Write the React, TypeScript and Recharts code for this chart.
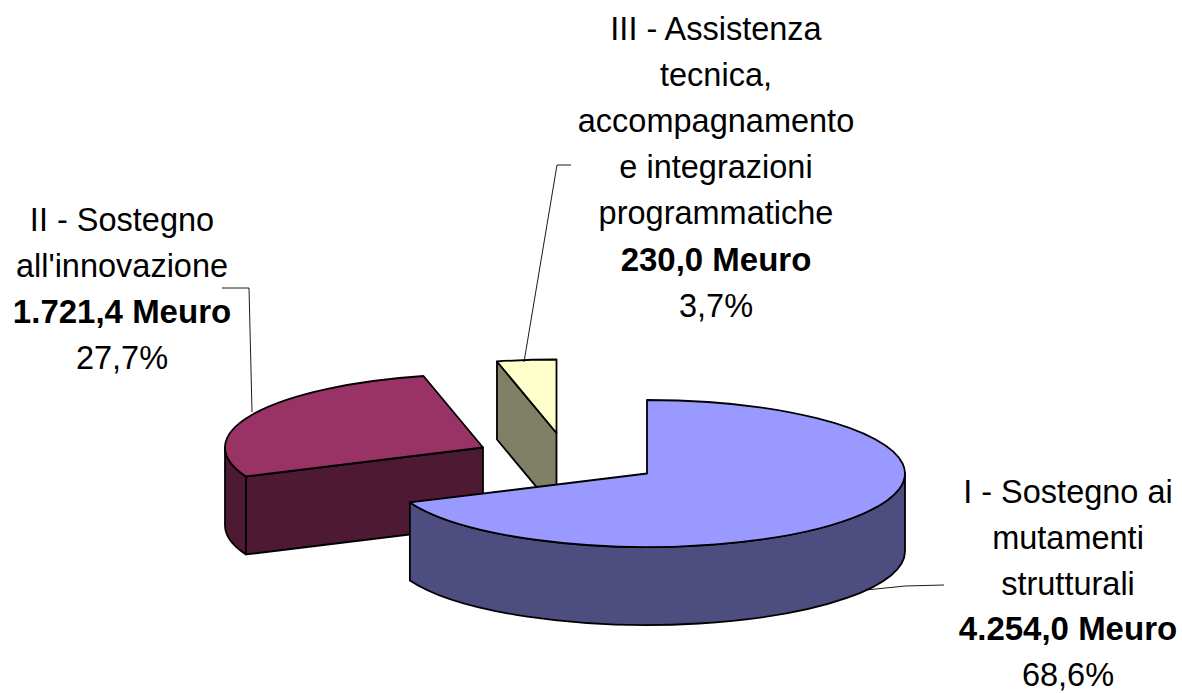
import { PieChart, Pie } from "recharts";

// listed back to front, so the large slice is painted last
const categories = ["III", "II", "I"];
const values = [230.0, 1721.4, 4254.0];
const amounts = ["230,0 Meuro", "1.721,4 Meuro", "4.254,0 Meuro"];
const percents = ["3,7%", "27,7%", "68,6%"];
const titles = [
  ["III - Assistenza", "tecnica,", "accompagnamento", "e integrazioni", "programmatiche"],
  ["II - Sostegno", "all'innovazione"],
  ["I - Sostegno ai", "mutamenti", "strutturali"],
];

const topColors = ["#FFFFCC", "#993366", "#9999FF"];
const sideColors = ["#808066", "#4D1933", "#4D4D80"];

// look of the fake 3D pie
const SQUASH = 73.5 / 258;
const DEPTH = 78;
const explodeX = [-90.5, -164, 0];
const explodeY = [-40.5, -26, 0];

// label placement
const labelX = [716, 122, 1068];
const labelY = [39.5, 231, 503];
const lineHeights = [46.2, 46, 45.75];
const leaderLines = [
  "571,165 557,165 524,362",
  "222,288 249,288 252,412",
  "944,585 905,586 866,590",
];

const rad = (deg: number) => (deg * Math.PI) / 180;

function Slice3D(props: any) {
  const { cx, cy, outerRadius: r, startAngle, endAngle, name } = props;
  const i = categories.indexOf(name);
  const x0 = cx + explodeX[i];
  const y0 = cy + explodeY[i];
  const ry = r * SQUASH;
  const a1 = Math.min(startAngle, endAngle);
  const a2 = Math.max(startAngle, endAngle);
  const px = (a: number) => x0 + r * Math.cos(rad(a));
  const py = (a: number, dy = 0) => y0 - ry * Math.sin(rad(a)) + dy;

  const top =
    `M${x0},${y0} L${px(a1)},${py(a1)} ` +
    `A${r},${ry} 0 ${a2 - a1 > 180 ? 1 : 0} 0 ${px(a2)},${py(a2)} Z`;

  const radialWall = (a: number) =>
    `M${x0},${y0} L${px(a)},${py(a)} L${px(a)},${py(a, DEPTH)} L${x0},${y0 + DEPTH} Z`;

  const from = Math.max(a1, 180);
  const to = Math.min(a2, 360);
  const outerWall =
    to > from
      ? `M${px(from)},${py(from)} A${r},${ry} 0 0 0 ${px(to)},${py(to)} ` +
        `L${px(to)},${py(to, DEPTH)} A${r},${ry} 0 0 1 ${px(from)},${py(from, DEPTH)} Z`
      : null;

  const side = { fill: sideColors[i], stroke: "#000", strokeWidth: 1.8, strokeLinejoin: "round" as const };
  return (
    <g>
      {Math.cos(rad(a1)) > 0.001 && <path d={radialWall(a1)} {...side} />}
      {Math.cos(rad(a2)) < -0.001 && <path d={radialWall(a2)} {...side} />}
      {outerWall && <path d={outerWall} {...side} />}
      <path d={top} fill={topColors[i]} stroke="#000" strokeWidth={1.8} strokeLinejoin="round" />
    </g>
  );
}

function SliceLabel(props: any) {
  const i = categories.indexOf(props.name);
  const lines = titles[i];
  const lh = lineHeights[i];
  return (
    <g>
      <polyline points={leaderLines[i]} fill="none" stroke="#000" strokeWidth={0.9} />
      <text
        textAnchor="middle"
        fontFamily="Liberation Sans"
        fontSize={32.5}
        fill="#000"
        stroke="none"
      >
        {lines.map((line, n) => (
          <tspan key={n} x={labelX[i]} y={labelY[i] + n * lh}>
            {line}
          </tspan>
        ))}
        <tspan x={labelX[i]} y={labelY[i] + lines.length * lh} fontWeight="bold" fontSize={33}>
          {amounts[i]}
        </tspan>
        <tspan x={labelX[i]} y={labelY[i] + (lines.length + 1) * lh}>
          {percents[i]}
        </tspan>
      </text>
    </g>
  );
}

const tableData = categories.map((name, i) => ({ name, value: values[i] }));

export default function App() {
  return (
    <div style={{ position: "absolute", left: 0, top: 0, width: 1182, height: 693, background: "#fff" }}>
      <PieChart width={1182} height={693} margin={{ top: 0, right: 0, bottom: 0, left: 0 }}>
        <Pie
          data={tableData}
          dataKey="value"
          nameKey="name"
          cx={647}
          cy={473.5}
          innerRadius={0}
          outerRadius={258}
          startAngle={90}
          endAngle={450}
          paddingAngle={0}
          shape={Slice3D}
          label={SliceLabel}
          labelLine={false}
          isAnimationActive={false}
        />
      </PieChart>
    </div>
  );
}
